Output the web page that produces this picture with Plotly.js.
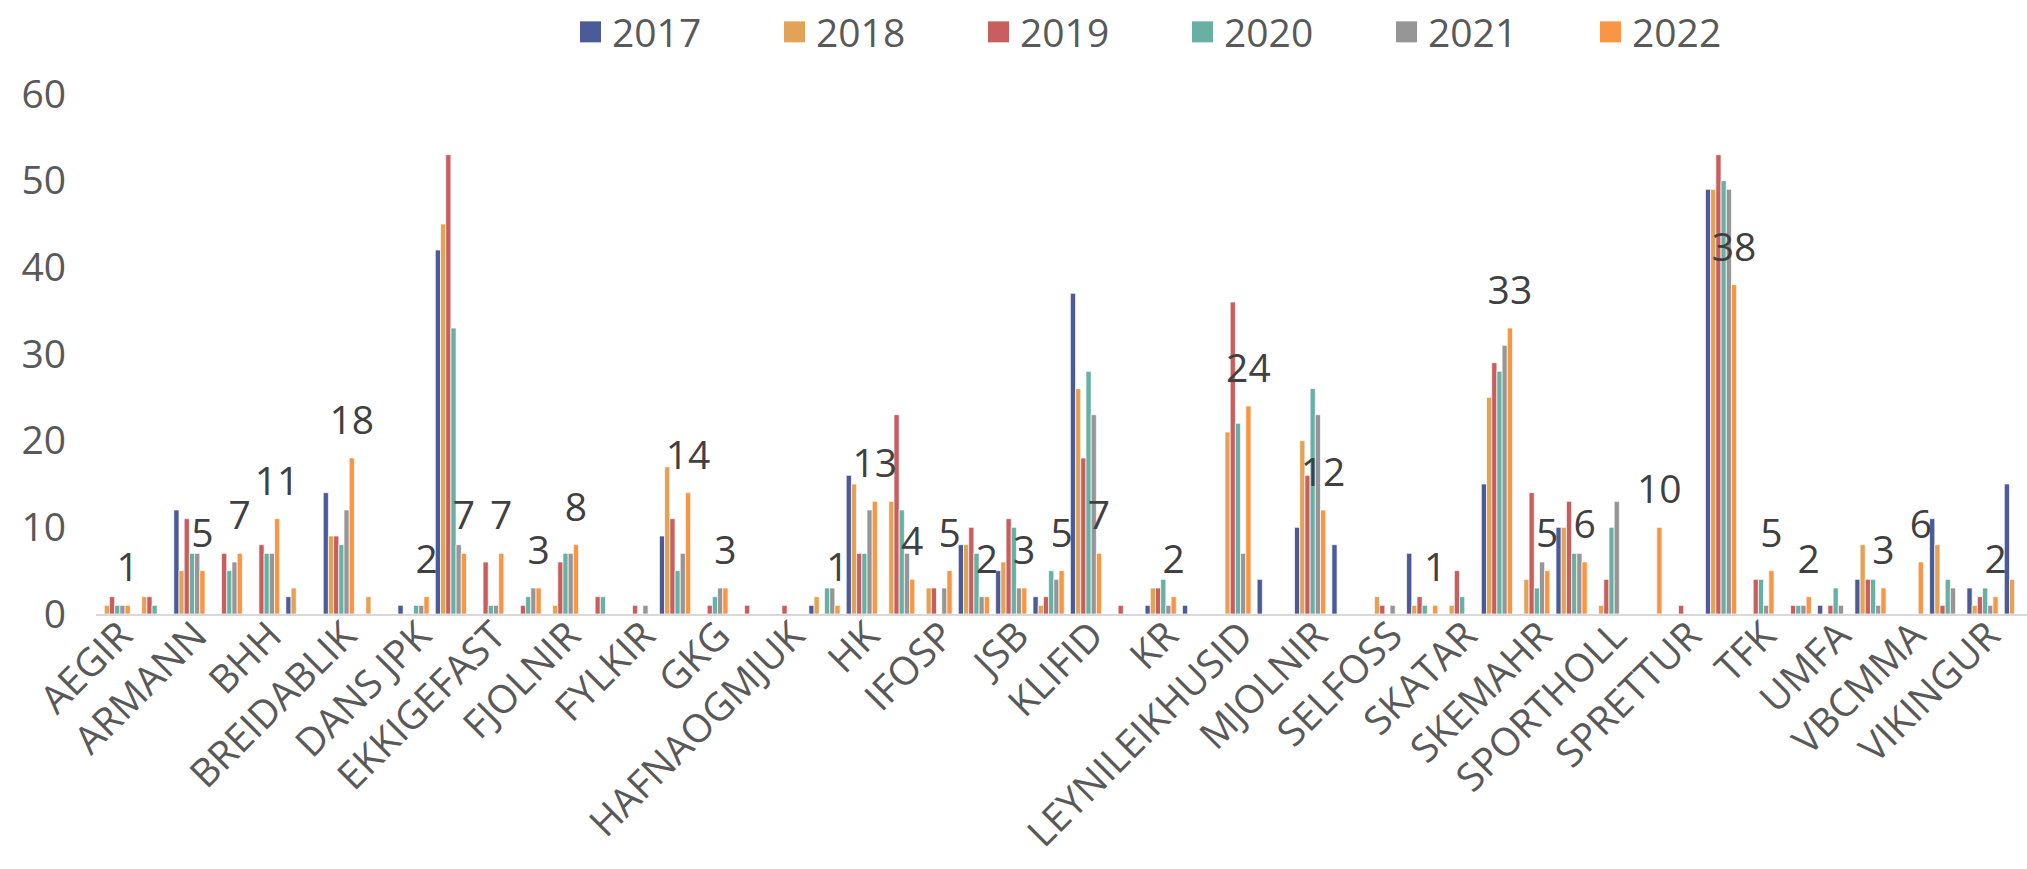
<!DOCTYPE html>
<html><head><meta charset="utf-8">
<script src="https://cdn.plot.ly/plotly-3.0.1.min.js"></script>
<style>html,body{margin:0;padding:0;background:#fff;overflow:hidden}#chart{width:2027px;height:869px}</style>
</head><body><div id="chart"></div>
<script>
// Category names (only every other category is labelled in the picture)
const categories = ["AEGIR","","ARMANN","","BHH","","BREIDABLIK","","DANS JPK","","EKKIGEFAST","","FJOLNIR","","FYLKIR","","GKG","","HAFNAOGMJUK","","HK","","IFOSP","","JSB","","KLIFID","","KR","","LEYNILEIKHUSID","","MJOLNIR","","SELFOSS","","SKATAR","","SKEMAHR","","SPORTHOLL","","SPRETTUR","","TFK","","UMFA","","VBCMMA","","VIKINGUR",""];
const years = ["2017","2018","2019","2020","2021","2022"];
const y2017 = [0,0,12,0,0,2,14,0,1,42,0,0,0,0,0,9,0,0,0,1,16,0,0,8,5,2,37,0,1,1,0,4,10,8,0,7,0,15,0,10,0,0,0,49,0,0,1,4,0,11,3,15];
const y2018 = [1,2,5,0,0,3,9,2,0,45,0,0,1,0,0,17,0,0,0,2,15,13,3,8,6,1,26,0,3,0,21,0,20,0,2,1,1,25,4,10,1,0,0,49,0,0,0,8,0,8,1,4];
const y2019 = [2,2,11,7,8,0,9,0,0,53,6,1,6,2,1,11,1,1,1,0,7,23,3,10,11,2,18,1,3,0,36,0,16,0,1,2,5,29,14,13,4,0,1,53,4,1,1,4,0,1,2,0];
const y2020 = [1,1,7,5,7,0,8,0,1,33,1,2,7,2,0,5,2,0,0,3,7,12,0,7,10,5,28,0,4,0,22,0,26,0,0,1,2,28,3,7,10,0,0,50,4,1,3,4,0,4,3,0];
const y2021 = [1,0,7,6,7,0,12,0,1,8,1,3,7,0,1,7,3,0,0,3,12,7,3,2,3,4,23,0,1,0,7,0,23,0,1,0,0,31,6,7,13,0,0,49,1,1,1,1,0,3,1,0];
const y2022 = [1,0,5,7,11,0,18,0,2,7,7,3,8,0,0,14,3,0,0,1,13,4,5,2,3,5,7,0,2,0,24,0,12,0,0,1,0,33,5,6,0,10,0,38,5,2,0,3,6,0,2,0];
const colors = ["#4A5B98","#E2A257","#C95E5E","#67B0A3","#969696","#F89646"];

const series = [y2017,y2018,y2019,y2020,y2021,y2022];
const idx = categories.map((c,i)=>i);
const tickvals = idx.filter(i=>categories[i] !== "");
const ticktext = tickvals.map(i=>categories[i]);
const FONT = "'Open Sans', Lato, sans-serif";

const traces = series.map((vals,k)=>{
  const t = {
    type:'bar', name: years[k], x: idx, y: vals,
    marker:{color: colors[k], line:{color:'#ffffff', width:0.7}},
    hoverinfo:'skip'
  };
  if (k === series.length-1) {
    t.text = vals.map(v=> v>0 ? String(v) : '');
    t.textposition = 'outside';
    t.constraintext = 'none';
    t.cliponaxis = false;
    t.textfont = {family: FONT, size: 39, color:'#404040'};
  }
  return t;
});

const layout = {
  width: 2027, height: 869,
  margin:{l:96, r:0, t:94, b:255, pad:0},
  paper_bgcolor:'#ffffff', plot_bgcolor:'#ffffff',
  font:{family: FONT, color:'#595959'},
  barmode:'group', bargap:0.165, bargroupgap:0,
  showlegend:true,
  legend:{orientation:'h', xref:'container', yref:'container', x:572/2027, xanchor:'left', y:1, yanchor:'top',
          entrywidth:159, font:{family:FONT, size:39, color:'#595959'}, bgcolor:'rgba(0,0,0,0)'},
  xaxis:{range:[-0.5, 51.19], tickmode:'array', tickvals: tickvals, ticktext: ticktext, tickangle:-45,
         tickfont:{family:FONT, size:39, color:'#595959'}, showline:true, linecolor:'#D9D9D9', linewidth:2,
         ticks:'', showgrid:false, zeroline:false, fixedrange:true, ticklabelstandoff:-19, ticklabelshift:6},
  yaxis:{range:[0,60], dtick:10, tick0:0, showgrid:false, zeroline:false, showline:false, ticks:'',
         tickfont:{family:FONT, size:39, color:'#595959'}, ticklabelstandoff:29, fixedrange:true}
};

Plotly.newPlot('chart', traces, layout, {staticPlot:true, displayModeBar:false}).then(()=>{
  document.querySelectorAll('#chart .legendpoints path').forEach(p=>{
    p.removeAttribute('transform');
    p.setAttribute('d','M8,-10.5H29V10.5H8Z');
    p.style.strokeWidth = '0px';
  });
  document.querySelectorAll('#chart text.bartext').forEach(t=>{
    const tr = t.getAttribute('transform') || '';
    t.setAttribute('transform', 'translate(0,-13) ' + tr);
  });
});
</script>
</body></html>
